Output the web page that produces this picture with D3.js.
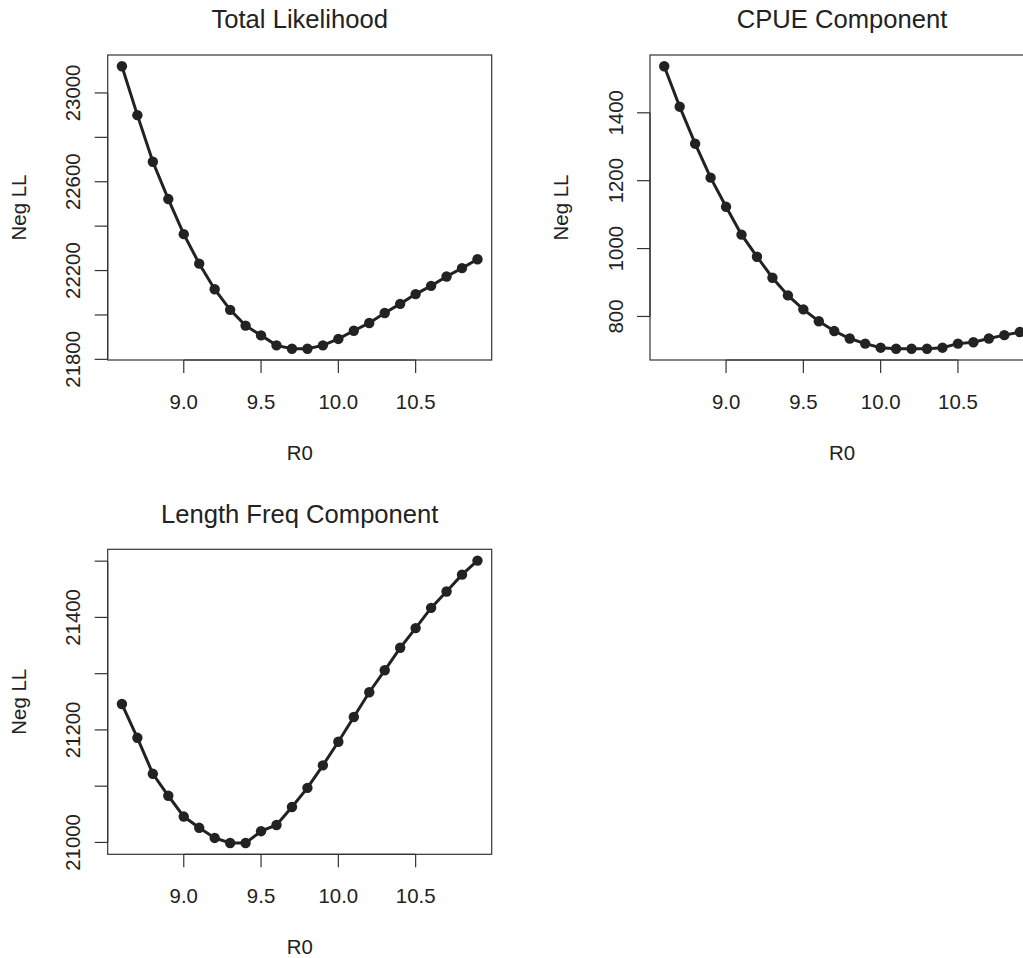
<!DOCTYPE html>
<html>
<head>
    <script src="https://cdnjs.cloudflare.com/ajax/libs/d3/7.8.5/d3.min.js"></script>
    <style>
        body { margin: 0; background: #fff; }
        text { font-family: "Liberation Sans", Arial, sans-serif; fill: #222; }
        .tick-label { font-size: 20.4px; }
        .axis-title { font-size: 20.4px; }
        .main-title { font-size: 25.6px; }
    </style>
</head>
<body>
    <div id="chart"></div>
    <script>
        const width = 1023, height = 958;

        // R0 grid values
        const r0 = [8.6, 8.7, 8.8, 8.9, 9.0, 9.1, 9.2, 9.3, 9.4, 9.5, 9.6, 9.7,
                    9.8, 9.9, 10.0, 10.1, 10.2, 10.3, 10.4, 10.5, 10.6, 10.7, 10.8, 10.9];

        // negative log-likelihood profiles
        const totalLL = [23120, 22900, 22690, 22522, 22364, 22231, 22116, 22023, 21952, 21908, 21863, 21848,
                         21848, 21863, 21892, 21929, 21964, 22009, 22050, 22094, 22131, 22173, 22211, 22251];
        const cpueLL = [1537, 1418, 1309, 1209, 1123, 1041, 976, 914, 862, 821, 786, 757,
                        735, 720, 708, 705, 705, 705, 708, 720, 724, 735, 745, 754];
        const lenFreqLL = [21246, 21186, 21122, 21083, 21046, 21026, 21008, 20999, 20999, 21020, 21031, 21063,
                           21097, 21137, 21179, 21223, 21267, 21306, 21346, 21381, 21417, 21446, 21476, 21501];

        const xTicks = [9.0, 9.5, 10.0, 10.5];
        const xTickLabels = ["9.0", "9.5", "10.0", "10.5"];

        const panels = [
            { title: "Total Likelihood", values: totalLL, col: 0, row: 0,
              yTicks: [21800, 22000, 22200, 22400, 22600, 22800, 23000],
              yLabels: [21800, 22200, 22600, 23000] },
            { title: "CPUE Component", values: cpueLL, col: 1, row: 0,
              yTicks: [800, 1000, 1200, 1400],
              yLabels: [800, 1000, 1200, 1400] },
            { title: "Length Freq Component", values: lenFreqLL, col: 0, row: 1,
              yTicks: [21000, 21100, 21200, 21300, 21400, 21500],
              yLabels: [21000, 21200, 21400] }
        ];

        const panelW = 542.3, panelH = 494.3;
        const m = { left: 107.7, top: 55 };
        const plotW = 384, plotH = 305;
        const ink = "#222";

        const svg = d3.select("#chart").append("svg")
            .attr("width", width).attr("height", height);

        // R style 4% padding on both ends
        function padDomain(ext) {
            const p = (ext[1] - ext[0]) * 0.04;
            return [ext[0] - p, ext[1] + p];
        }

        const x = d3.scaleLinear().domain(padDomain(d3.extent(r0))).range([0, plotW]);

        panels.forEach(p => {
            const g = svg.append("g")
                .attr("transform", `translate(${p.col * panelW + m.left},${p.row * panelH + m.top})`);

            const y = d3.scaleLinear().domain(padDomain(d3.extent(p.values))).range([plotH, 0]);

            // box
            g.append("rect")
                .attr("width", plotW).attr("height", plotH)
                .attr("fill", "none").attr("stroke", "#333").attr("stroke-width", 1.2);

            // x axis
            const xa = g.append("g").attr("transform", `translate(0,${plotH})`);
            xa.append("line")
                .attr("x1", x(xTicks[0])).attr("x2", x(xTicks[xTicks.length - 1]))
                .attr("stroke", "#333").attr("stroke-width", 1.2);
            xa.selectAll(".xt").data(xTicks).enter().append("line")
                .attr("x1", d => x(d)).attr("x2", d => x(d))
                .attr("y1", 0).attr("y2", 13)
                .attr("stroke", "#333").attr("stroke-width", 1.2);
            xa.selectAll(".xl").data(xTicks).enter().append("text")
                .attr("class", "tick-label")
                .attr("x", d => x(d)).attr("y", 49)
                .attr("text-anchor", "middle")
                .text((d, i) => xTickLabels[i]);

            // y axis
            const ya = g.append("g");
            ya.append("line")
                .attr("y1", y(p.yTicks[0])).attr("y2", y(p.yTicks[p.yTicks.length - 1]))
                .attr("stroke", "#333").attr("stroke-width", 1.2);
            ya.selectAll(".yt").data(p.yTicks).enter().append("line")
                .attr("x1", 0).attr("x2", -13)
                .attr("y1", d => y(d)).attr("y2", d => y(d))
                .attr("stroke", "#333").attr("stroke-width", 1.2);
            ya.selectAll(".yl").data(p.yLabels).enter().append("text")
                .attr("class", "tick-label")
                .attr("transform", d => `translate(-27.5,${y(d)}) rotate(-90)`)
                .attr("text-anchor", "middle")
                .text(d => d);

            // titles
            g.append("text").attr("class", "main-title")
                .attr("x", plotW / 2).attr("y", -26.7)
                .attr("text-anchor", "middle").text(p.title);
            g.append("text").attr("class", "axis-title")
                .attr("x", plotW / 2).attr("y", plotH + 100)
                .attr("text-anchor", "middle").text("R0");
            g.append("text").attr("class", "axis-title")
                .attr("transform", `translate(-82,${plotH / 2}) rotate(-90)`)
                .attr("text-anchor", "middle").text("Neg LL");

            // profile line + points
            const line = d3.line().x((d, i) => x(r0[i])).y(d => y(d));
            g.append("path").datum(p.values)
                .attr("d", line)
                .attr("fill", "none").attr("stroke", ink).attr("stroke-width", 3);
            g.selectAll(".pt").data(p.values).enter().append("circle")
                .attr("cx", (d, i) => x(r0[i])).attr("cy", d => y(d))
                .attr("r", 5.2).attr("fill", ink);
        });
    </script>
</body>
</html>
